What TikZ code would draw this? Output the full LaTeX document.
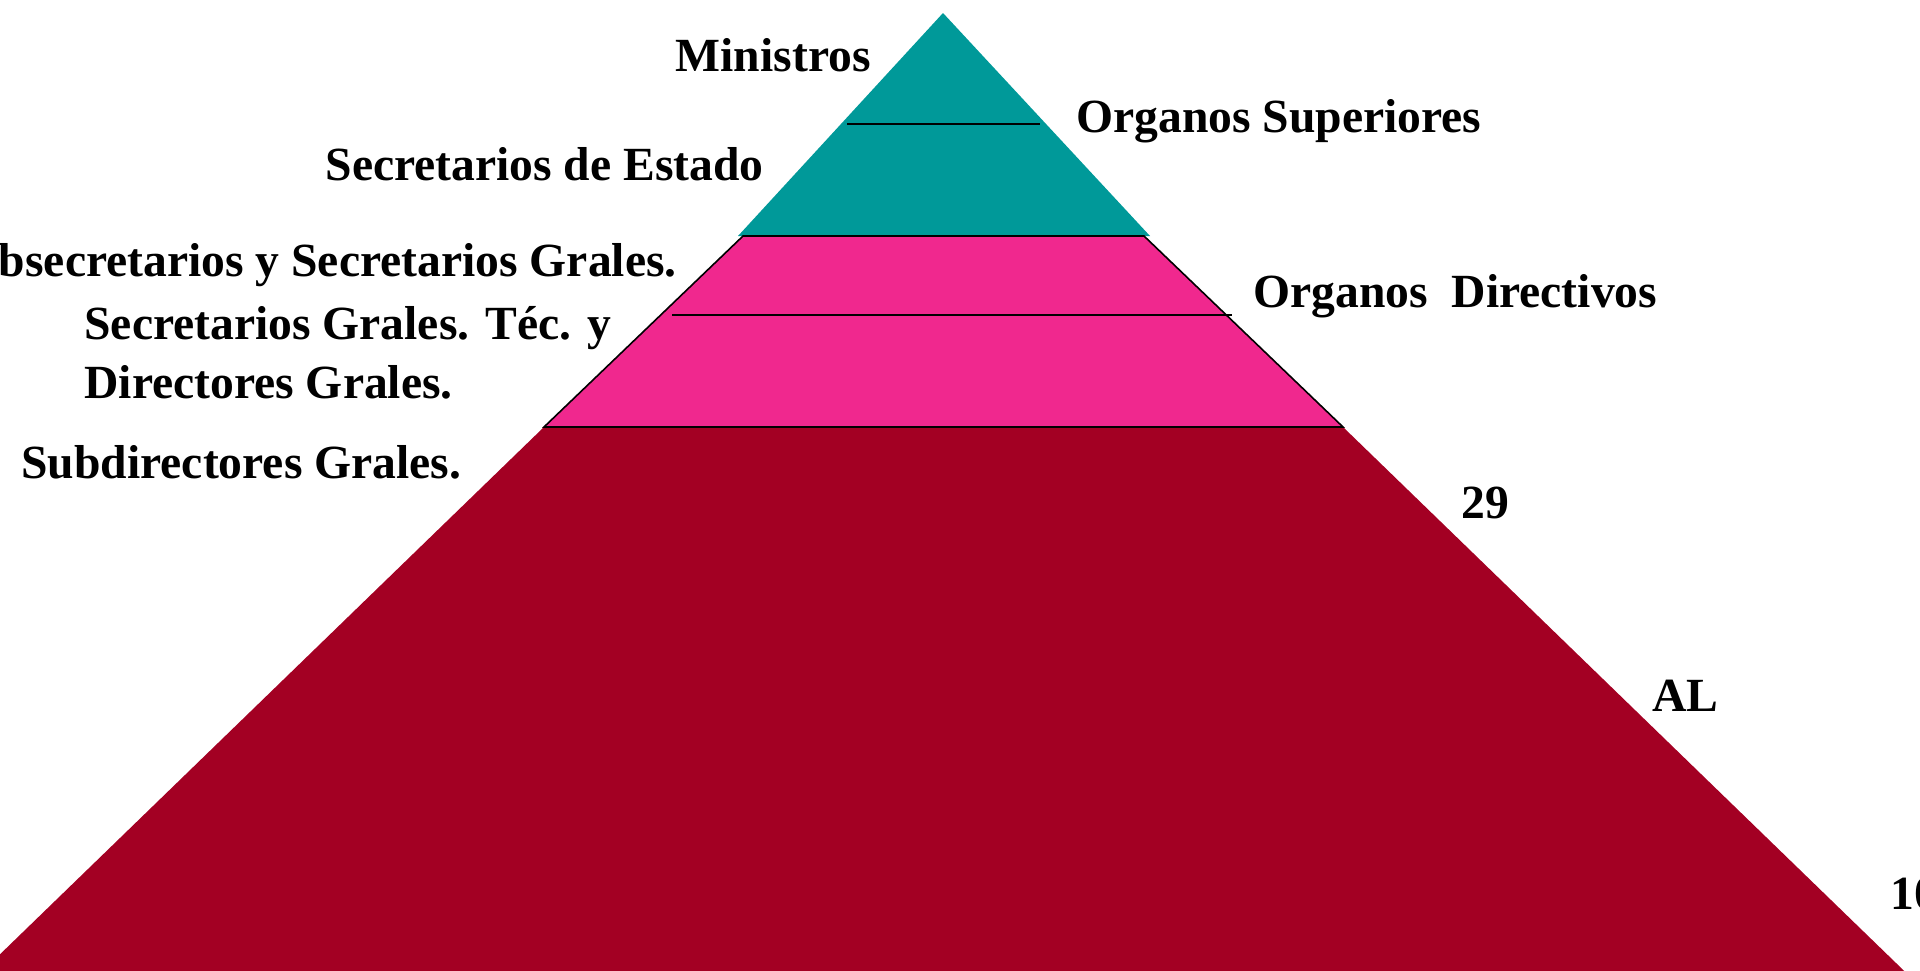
\documentclass[tikz,border=0pt]{standalone}
\usepackage{fontspec}
\setmainfont{Liberation Serif}
\definecolor{tealL}{RGB}{0,153,153}
\definecolor{pinkL}{RGB}{240,40,142}
\definecolor{redL}{RGB}{163,0,35}
\tikzset{
  lbl/.style={font=\bfseries\fontsize{23.8pt}{29.5pt}\selectfont, inner sep=0pt, text=black},
  sepline/.style={line width=0.8pt, draw=black},
}
\begin{document}
\begin{tikzpicture}[x=0.5pt,y=-0.5pt]
\useasboundingbox (0,0) rectangle (1920,970);
\clip (0,0) rectangle (1920,970);
% pyramid levels
\fill[redL] (544,427) -- (1343,427) -- (1929,995) -- (-42,995) -- cycle;
\fill[tealL] (943,13) -- (1150,236) -- (738,236) -- cycle;
\filldraw[fill=pinkL, sepline] (743,236) -- (1144,236) -- (1343,427) -- (544,427) -- cycle;
\draw[sepline] (847,124) -- (1040,124);
\draw[sepline] (672,315) -- (1232,315);
% labels
\node[lbl, anchor=base east] (min) at (871,71) {Ministros};
\node[lbl, anchor=base west] (osup) at (1076,132) {Organos Superiores};
\node[lbl, anchor=base east] (sest) at (764,180) {Secretarios de Estado};
\node[lbl, anchor=base east] (subs) at (677,276) {Subsecretarios y Secretarios Grales.};
\node[lbl, anchor=base west, align=left] (sgt) at (84,398) {Secretarios Grales. Téc. y\\Directores Grales.};
\node[lbl, anchor=base west] (subd) at (21,478) {Subdirectores Grales.};
\node[lbl, anchor=base west] (odir) at (1253,307) {Organos\ \ Directivos};
\node[lbl, anchor=base west] (n29) at (1461,518) {29};
\node[lbl, anchor=base west] (al) at (1652,711) {AL};
\node[lbl, anchor=base west] (n10) at (1890,909) {10};
\end{tikzpicture}
\end{document}
